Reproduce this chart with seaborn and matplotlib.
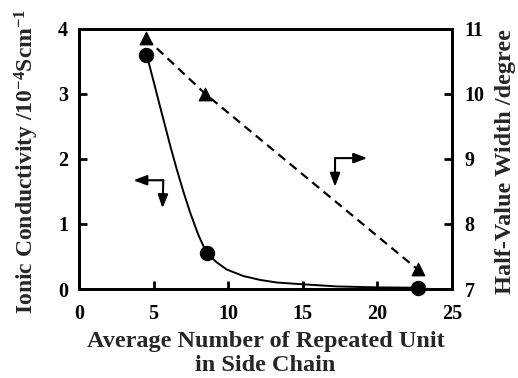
import matplotlib
matplotlib.use("Agg")
import matplotlib.pyplot as plt
import seaborn as sns
import pandas as pd

# Data
cond_x = [4.5, 8.6, 22.7]
cond_y = [3.6, 0.55, 0.02]
# fitted guide curve
curve_x = [4.54, 4.76, 5.48, 6.15, 6.55, 6.99, 7.44, 8.00, 8.56, 9.23, 9.90,
           11.01, 12.13, 13.25, 15.03, 17.27, 20.0, 22.7]
curve_y = [3.59, 3.40, 2.76, 2.17, 1.84, 1.50, 1.18, 0.83, 0.55, 0.41, 0.30,
           0.20, 0.14, 0.10, 0.072, 0.04, 0.025, 0.02]
hvw_x = [4.5, 8.45, 22.7]
hvw_y = [10.85, 10.0, 7.3]

x_ticks = [0, 5, 10, 15, 20, 25]
left_ticks = [0, 1, 2, 3, 4]
right_ticks = [7, 8, 9, 10, 11]

sns.set_style("ticks")
plt.rcParams['font.family'] = ['Liberation Serif', 'DejaVu Serif']
plt.rcParams['font.weight'] = 'bold'
plt.rcParams['mathtext.fontset'] = 'custom'
plt.rcParams['mathtext.rm'] = 'Liberation Serif:bold'
plt.rcParams['mathtext.it'] = 'Liberation Serif:bold'
plt.rcParams['mathtext.bf'] = 'Liberation Serif:bold'

fig = plt.figure(figsize=(5.18, 3.78), dpi=100)
ax = fig.add_axes([0.1525, 0.2354, 0.7201, 0.6892])
ax2 = ax.twinx()

curve = pd.DataFrame({"x": curve_x, "y": curve_y})
cond = pd.DataFrame({"x": cond_x, "y": cond_y})
hvw = pd.DataFrame({"x": hvw_x, "y": hvw_y})

sns.lineplot(data=curve, x="x", y="y", ax=ax, color="black", lw=1.4, sort=False)
sns.scatterplot(data=cond, x="x", y="y", ax=ax, color="black", s=105,
                marker="o", edgecolor="black", zorder=5, clip_on=False)

sns.lineplot(data=hvw, x="x", y="y", ax=ax2, color="black", lw=1.6,
             linestyle=(0, (4, 2.6)))
sns.scatterplot(data=hvw, x="x", y="y", ax=ax2, color="black", s=85,
                marker="^", edgecolor="black", zorder=5, clip_on=False)

ax.set_xlim(0, 25)
ax.set_ylim(0, 4)
ax2.set_ylim(7, 11)
ax.set_xticks(x_ticks)
ax.set_yticks(left_ticks)
ax2.set_yticks(right_ticks)

for a in (ax, ax2):
    for s in a.spines.values():
        s.set_linewidth(2)
        s.set_color("black")
    a.tick_params(direction="in", length=6, width=2, labelsize=14.5,
                  colors="black")
ax.tick_params(axis="x", pad=11)
ax.tick_params(axis="y", pad=8)
ax2.tick_params(axis="y", pad=9)

ax.set_xlabel("Average Number of Repeated Unit\nin Side Chain",
              fontsize=17.5, fontweight="bold", linespacing=1.15, labelpad=5)
ax.set_ylabel(r"Ionic Conductivity /10$^{-4}$Scm$^{-1}$",
              fontsize=17, fontweight="bold")
ax2.set_ylabel("Half-Value Width /degree", fontsize=17.5, fontweight="bold")
ax.yaxis.set_label_coords(-0.102, 0.49)
ax2.yaxis.set_label_coords(1.115, 0.49)

arrow_kw = dict(arrowstyle="-|>,head_length=0.8,head_width=0.3", color="black",
                lw=1.5, mutation_scale=10, shrinkA=0, shrinkB=0)
# left group (points to left axis)
ax.annotate("", xy=(3.64, 1.67), xytext=(5.65, 1.67), arrowprops=arrow_kw)
ax.annotate("", xy=(5.6, 1.24), xytext=(5.65, 1.67), arrowprops=arrow_kw)
# right group (points to right axis)
ax.annotate("", xy=(19.32, 2.01), xytext=(17.16, 2.01), arrowprops=arrow_kw)
ax.annotate("", xy=(17.16, 1.57), xytext=(17.16, 2.01), arrowprops=arrow_kw)

fig.savefig("out.png", dpi=100)
